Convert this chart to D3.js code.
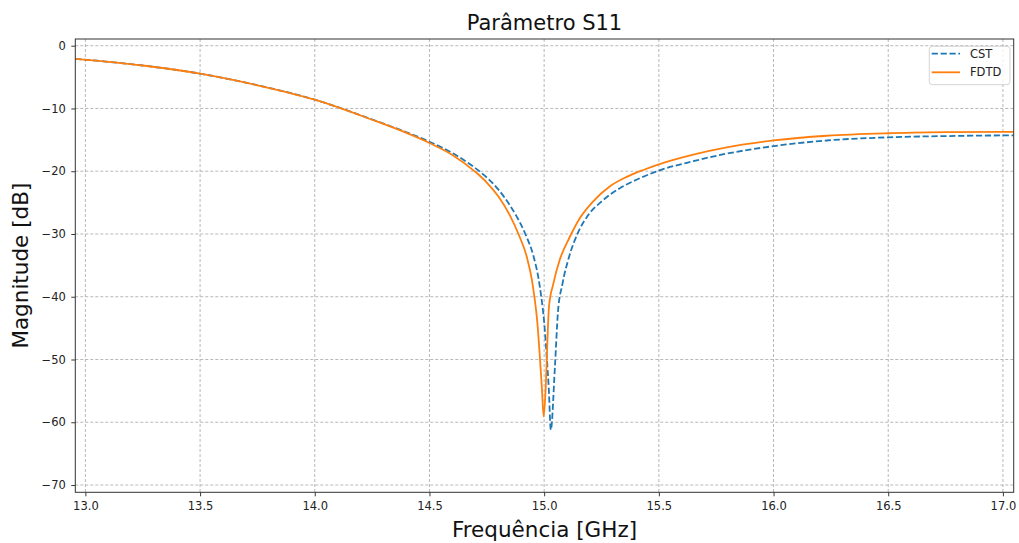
<!DOCTYPE html>
<html>
<head>
<meta charset="utf-8">
<script src="https://cdn.jsdelivr.net/npm/d3@7"></script>
<style>
  html, body { margin: 0; padding: 0; background: #fff; }
  svg { display: block; font-family: "DejaVu Sans", sans-serif; }
</style>
</head>
<body>
<svg id="chart" width="1019" height="543"></svg>
<script>
// ---- Data ----
const freqCST = [12.956, 13.25, 13.5, 13.75, 14.0, 14.25, 14.4, 14.5, 14.6, 14.7, 14.75, 14.8, 14.85, 14.88, 14.918, 14.954, 14.976, 14.987, 15.0, 15.012, 15.020, 15.029,
                 15.047, 15.06, 15.08, 15.109, 15.15, 15.19, 15.254, 15.33, 15.4, 15.5, 15.65, 15.796, 16.0, 16.232, 16.5, 16.75, 17.0, 17.047];
const s11CST  = [-2.1, -3.15, -4.45, -6.3, -8.6, -11.75, -13.8, -15.3, -17.1, -19.5, -21.0, -22.9, -25.4, -27.2, -30.0, -33.6, -37.2, -39.9, -44.0, -50.0, -54.5, -61.2,
                 -51.1, -42.5, -37.9, -33.6, -29.6, -27.1, -24.7, -22.7, -21.4, -19.9, -18.4, -17.2, -16.0, -15.1, -14.6, -14.4, -14.3, -14.3];

const freqFDTD = [12.956, 13.25, 13.5, 13.75, 14.0, 14.25, 14.4, 14.5, 14.6, 14.7, 14.75, 14.8, 14.85, 14.888, 14.924, 14.946, 14.957, 14.970, 14.982, 14.990, 14.998,
                  15.007, 15.016, 15.021, 15.040, 15.069, 15.11, 15.15, 15.214, 15.287, 15.36, 15.432, 15.5, 15.65, 15.796, 16.0, 16.232, 16.5, 16.75, 17.0, 17.047];
const s11FDTD  = [-2.1, -3.15, -4.45, -6.3, -8.6, -11.8, -13.9, -15.5, -17.4, -20.1, -21.8, -24.0, -27.0, -30.0, -33.6, -37.2, -39.9, -44.0, -50.0, -54.5, -59.1,
                  -54.3, -45.3, -41.6, -37.9, -34.0, -30.6, -27.8, -24.8, -22.4, -20.9, -19.8, -18.9, -17.35, -16.2, -15.1, -14.35, -13.95, -13.78, -13.72, -13.72];

const xTicks = [13.0, 13.5, 14.0, 14.5, 15.0, 15.5, 16.0, 16.5, 17.0];
const yTicks = [0, -10, -20, -30, -40, -50, -60, -70];
const seriesNames = ["CST", "FDTD"];
const titleText = "Parâmetro S11";
const xLabel = "Frequência [GHz]";
const yLabel = "Magnitude [dB]";

// ---- Layout ----
const plot = { left: 75.3, right: 1013.7, top: 39, bottom: 492.3 };
const svg = d3.select("#chart");

const x = d3.scaleLinear().domain([12.956, 17.047]).range([plot.left, plot.right]);
const y = d3.scaleLinear().domain([-71.16, 1.07]).range([plot.bottom, plot.top]);

const colors = { CST: "#1f77b4", FDTD: "#ff7f0e" };

// Grid
const grid = svg.append("g").attr("class", "grid");
grid.selectAll("line.vx").data(xTicks).join("line")
  .attr("x1", d => x(d)).attr("x2", d => x(d))
  .attr("y1", plot.top).attr("y2", plot.bottom)
  .attr("stroke", "#b0b0b0").attr("stroke-width", 0.9).attr("stroke-dasharray", "3,2");
grid.selectAll("line.hy").data(yTicks).join("line")
  .attr("x1", plot.left).attr("x2", plot.right)
  .attr("y1", d => y(d)).attr("y2", d => y(d))
  .attr("stroke", "#b0b0b0").attr("stroke-width", 0.9).attr("stroke-dasharray", "3,2");

// Lines
svg.append("defs").append("clipPath").attr("id", "clip")
  .append("rect").attr("x", plot.left).attr("y", plot.top)
  .attr("width", plot.right - plot.left).attr("height", plot.bottom - plot.top);

const line = d3.line().x(d => x(d[0])).y(d => y(d[1])).curve(d3.curveMonotoneX);
const lines = svg.append("g").attr("clip-path", "url(#clip)");
lines.append("path")
  .attr("d", line(d3.zip(freqCST, s11CST)))
  .attr("fill", "none").attr("stroke", colors.CST).attr("stroke-width", 1.8)
  .attr("stroke-dasharray", "6.2,2.7");
lines.append("path")
  .attr("d", line(d3.zip(freqFDTD, s11FDTD)))
  .attr("fill", "none").attr("stroke", colors.FDTD).attr("stroke-width", 1.8);

// Axes
const fmt = d3.format(".1f");
const xAxis = svg.append("g").attr("transform", `translate(0,${plot.bottom})`)
  .call(d3.axisBottom(x).tickValues(xTicks).tickFormat(fmt).tickSize(4).tickPadding(6));
const yAxis = svg.append("g").attr("transform", `translate(${plot.left},0)`)
  .call(d3.axisLeft(y).tickValues(yTicks).tickFormat(d3.format("d")).tickSize(4).tickPadding(5.5));
[xAxis, yAxis].forEach(a => {
  a.select(".domain").remove();
  a.selectAll(".tick line").attr("stroke", "#222").attr("stroke-width", 0.9);
  a.selectAll(".tick text").attr("fill", "#222").style("font-size", "11.5px")
    .style("font-family", "'DejaVu Sans', sans-serif");
});

// Frame
svg.append("rect").attr("x", plot.left).attr("y", plot.top)
  .attr("width", plot.right - plot.left).attr("height", plot.bottom - plot.top)
  .attr("fill", "none").attr("stroke", "#333").attr("stroke-width", 1);

// Title and labels
svg.append("text").attr("x", (plot.left + plot.right) / 2).attr("y", 29.5)
  .attr("text-anchor", "middle").style("font-size", "21px").attr("fill", "#111").text(titleText);
svg.append("text").attr("x", (plot.left + plot.right) / 2).attr("y", 536.5)
  .attr("text-anchor", "middle").style("font-size", "21.5px").attr("fill", "#111").text(xLabel);
svg.append("text").attr("transform", `translate(28,${(plot.top + plot.bottom) / 2}) rotate(-90)`)
  .attr("text-anchor", "middle").style("font-size", "21.5px").attr("fill", "#111").text(yLabel);

// Legend
const lg = svg.append("g");
lg.append("rect").attr("x", 929.3).attr("y", 46.3).attr("width", 80.7).attr("height", 38.4)
  .attr("rx", 3).attr("fill", "#fff").attr("fill-opacity", 0.8).attr("stroke", "#d0d0d0").attr("stroke-width", 0.9);
seriesNames.forEach((name, i) => {
  const yy = 53.7 + i * 18.6;
  lg.append("line").attr("x1", 931.7).attr("x2", 960).attr("y1", yy).attr("y2", yy)
    .attr("stroke", colors[name]).attr("stroke-width", 1.8)
    .attr("stroke-dasharray", name === "CST" ? "6.2,2.7" : null);
  lg.append("text").attr("x", 970).attr("y", yy).attr("dy", "0.36em")
    .style("font-size", "11.5px").attr("fill", "#222").text(name);
});
</script>
</body>
</html>
